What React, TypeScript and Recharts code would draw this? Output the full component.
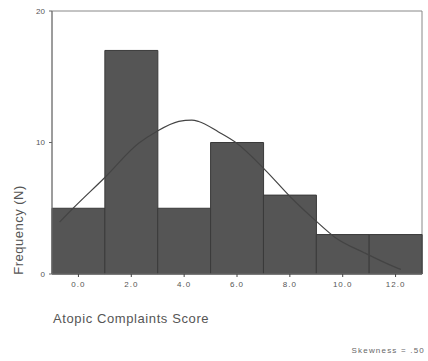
import React from "react";
import {
  ComposedChart,
  Bar,
  Line,
  XAxis,
  YAxis,
  ReferenceArea,
} from "recharts";

const binCenters = [0, 2, 4, 6, 8, 10, 12];
const frequencies = [5, 17, 5, 10, 6, 3, 3];
const xTicks = [0, 2, 4, 6, 8, 10, 12];
const yTicks = [0, 10, 20];
const curveX = [-0.71, -0.23, 0.98, 2.29, 2.93, 3.8, 4.29, 4.55, 5.3, 5.98, 7.07, 8.05, 8.95, 9.7, 10.83, 12.07, 12.2];
const curveY = [3.95, 4.94, 7.3, 9.96, 10.8, 11.6, 11.7, 11.6, 10.8, 9.96, 7.9, 5.8, 4.1, 2.8, 1.6, 0.45, 0.35];

const barData = binCenters.map((b, i) => ({ bin: b, freq: frequencies[i] }));
const curveData = curveX.map((x, i) => ({ x, y: curveY[i] }));

const font = "'Liberation Sans', Arial, sans-serif";

export default function App() {
  return (
    <div style={{ position: "absolute", left: 0, top: 0, width: 428, height: 361, background: "#fff", fontFamily: font }}>
      <ComposedChart
        width={428}
        height={361}
        data={barData}
        margin={{ top: 11, right: 6, bottom: 57, left: 0 }}
        barCategoryGap={0}
        barGap={0}
      >
        <XAxis
          xAxisId="num"
          type="number"
          dataKey="x"
          domain={[-1, 13]}
          ticks={xTicks}
          allowDataOverflow
          height={30}
          tickFormatter={(v: number) => v.toFixed(1)}
          tick={{ fontSize: 8, fill: "#555", fontFamily: font, letterSpacing: 1 }}
          tickSize={3}
          tickMargin={4}
          axisLine={{ stroke: "#777" }}
          tickLine={{ stroke: "#444" }}
        />
        <XAxis xAxisId="cat" dataKey="bin" hide height={0} padding={{ left: 0, right: 0 }} />
        <YAxis
          type="number"
          domain={[0, 20]}
          ticks={yTicks}
          width={52}
          tick={{ fontSize: 8, fill: "#555", fontFamily: font }}
          tickSize={3}
          tickMargin={4}
          axisLine={{ stroke: "#777" }}
          tickLine={{ stroke: "#666" }}
        />
        <ReferenceArea
          xAxisId="num"
          x1={-1}
          x2={13}
          y1={0}
          y2={20}
          fill="none"
          fillOpacity={0}
          stroke="#888"
          strokeWidth={1}
          ifOverflow="visible"
        />
        <Bar
          xAxisId="cat"
          dataKey="freq"
          fill="#555555"
          stroke="#3a3a3a"
          strokeWidth={1}
          isAnimationActive={false}
        />
        <Line
          xAxisId="num"
          data={curveData}
          dataKey="y"
          type="monotone"
          stroke="#444"
          strokeWidth={1.2}
          dot={false}
          activeDot={false}
          isAnimationActive={false}
        />
      </ComposedChart>
      <div
        style={{
          position: "absolute",
          left: 18,
          top: 230,
          transform: "translate(-50%, -50%) rotate(-90deg)",
          fontSize: 13,
          letterSpacing: 0.5,
          color: "#555",
          whiteSpace: "nowrap",
        }}
      >
        Frequency (N)
      </div>
      <div style={{ position: "absolute", left: 53, top: 311, fontSize: 13, letterSpacing: 0.6, color: "#555", whiteSpace: "nowrap" }}>
        Atopic Complaints Score
      </div>
      <div style={{ position: "absolute", right: 3, top: 346, fontSize: 8, color: "#666", whiteSpace: "nowrap", letterSpacing: 1.2 }}>
        Skewness = .50
      </div>
    </div>
  );
}
